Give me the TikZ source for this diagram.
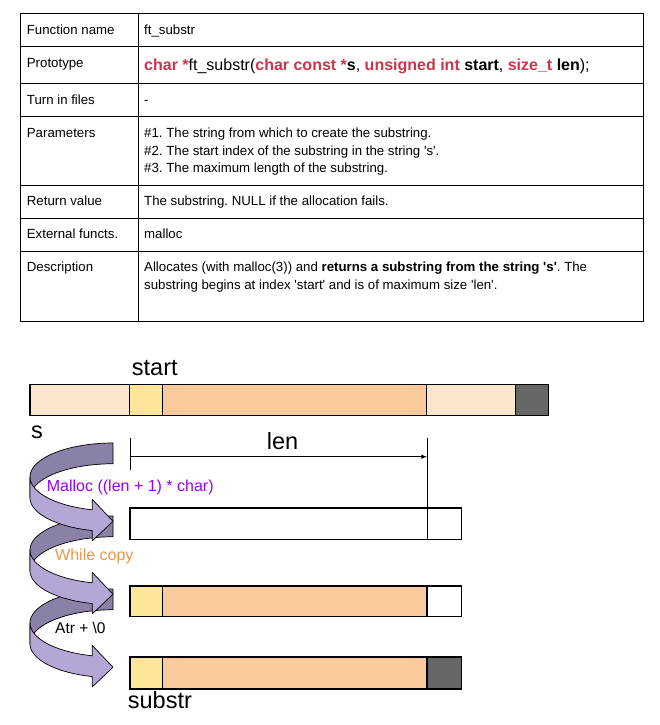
\documentclass[tikz,border=0pt]{standalone}
\usepackage{fontspec}
\newfontfamily\af{Liberation Sans}
\usetikzlibrary{arrows.meta}
\definecolor{codered}{RGB}{204,54,72}
\definecolor{peach}{HTML}{FCE5CD}
\definecolor{ylw}{HTML}{FFE599}
\definecolor{orng}{HTML}{F9CB9C}
\definecolor{dgray}{HTML}{666666}
\definecolor{arrlight}{HTML}{B4A7D6}
\definecolor{arrdark}{RGB}{139,128,166}
\definecolor{mallocc}{RGB}{153,0,255}
\definecolor{copyc}{RGB}{238,150,70}
\newcommand\curvedarrow[1]{%
\begin{scope}[shift={(113,#1)}]
\filldraw[darkp] (0,20.75) -- plot[domain=270:180,samples=30,variable=\q] ({83*cos(\q)},{54.69+33.94*sin(\q)}) -- (-83,33.94) -- plot[domain=180:270,samples=30,variable=\q] ({83*cos(\q)},{33.94+33.94*sin(\q)}) -- cycle;
\filldraw[lightp] (-83,33.94) -- plot[domain=180:104.48,samples=30,variable=\q] ({83*cos(\q)},{33.94+33.94*sin(\q)}) -- (-20.75,56.4) -- (0,78.25) -- (-20.75,97.9) -- (-20.75,87.55) -- plot[domain=104.48:180,samples=30,variable=\q] ({83*cos(\q)},{54.69+33.94*sin(\q)}) -- cycle;
\end{scope}}
\begin{document}
\begin{tikzpicture}[x=1pt,y=-1pt,
  tbl/.style={draw=black,line width=1pt},
  tl/.style={font=\af\frenchspacing\fontsize{13.25}{15}\selectfont,anchor=base west,inner sep=0pt},
  codetxt/.style={font=\af\frenchspacing\fontsize{16}{19}\selectfont,anchor=base west,inner sep=0pt},
  big/.style={font=\af\fontsize{23.5}{28}\selectfont,anchor=base west,inner sep=0pt},
  albl/.style={font=\af\frenchspacing\fontsize{16}{19}\selectfont,anchor=base west,inner sep=0pt},
  cell/.style={draw=black,line width=1.3pt},
  darkp/.style={fill=arrdark,draw=black,line width=0.7pt,line join=round},
  lightp/.style={fill=arrlight,draw=black,line width=0.7pt,line join=round}]
\useasboundingbox (0,0) rectangle (660,725);
% ---------- table ----------
\draw[tbl] (20,13.3) rectangle (643,321);
\draw[tbl] (138,13.3) -- (138,321);
\foreach \yy in {46.7,83.3,116,185,218,251}{\draw[tbl] (20,\yy) -- (643,\yy);}
\node[tl] (fn) at (26.7,35) {Function name};
\node[tl] (fnv) at (144,35) {ft\_substr};
\node[tl] (pt) at (26.7,67.3) {Prototype};
\node[codetxt] (ptv) at (144,70.7) {\textcolor{codered}{\textbf{char *}}ft\_substr(\textcolor{codered}{\textbf{char const *}}\textbf{s}, \textcolor{codered}{\textbf{unsigned int}} \textbf{start}, \textcolor{codered}{\textbf{size\_t}} \textbf{len});};
\node[tl] (tf) at (26.7,104.3) {Turn in files};
\node[tl] (tfv) at (144,104.3) {-};
\node[tl] (pa) at (26.7,137.3) {Parameters};
\node[tl] (pa1) at (144,137.3) {\#1. The string from which to create the substring.};
\node[tl] (pa2) at (144,155) {\#2. The start index of the substring in the string 's'.};
\node[tl] (pa3) at (144,172.7) {\#3. The maximum length of the substring.};
\node[tl] (rv) at (26.7,205.7) {Return value};
\node[tl] (rvv) at (144,205.7) {The substring. NULL if the allocation fails.};
\node[tl] (ef) at (26.7,238.7) {External functs.};
\node[tl] (efv) at (144,238.7) {malloc};
\node[tl] (de) at (26.7,271.7) {Description};
\node[tl] (de1) at (144,271.7) {Allocates (with malloc(3)) and \textbf{returns a substring from the string 's'}. The};
\node[tl] (de2) at (144,289.3) {substring begins at index 'start' and is of maximum size 'len'.};
% ---------- top bar ----------
\draw[cell,fill=peach] (30,384.3) rectangle (129.5,415.3);
\draw[cell,fill=ylw] (129.5,384.3) rectangle (162.3,415.3);
\draw[cell,fill=orng] (162.3,384.3) rectangle (426.5,415.3);
\draw[cell,fill=peach] (426.5,384.3) rectangle (515.7,415.3);
\draw[cell,fill=dgray] (515.7,384.3) rectangle (548.3,415.3);
\node[big] (start) at (131.7,375) {start};
\node[big] (s) at (31,438.3) {s};
\node[big] (len) at (266.7,449.3) {len};
% ---------- len dimension ----------
\coordinate (lenTL) at (130,437.7);
\coordinate (lenBL) at (130,470);
\coordinate (lenTR) at (427.3,437.7);
\coordinate (lenBR) at (427.3,508);
\coordinate (lenL) at (130,456.7);
\coordinate (lenR) at (427.3,456.7);
\draw[line width=1pt] (lenTL) -- (lenBL);
\draw[line width=1pt] (lenTR) -- (lenBR);
\draw[line width=1pt,-{Latex[length=6pt,width=4.5pt]}] (lenL) -- (lenR);
% ---------- curved arrows ----------
\curvedarrow{589}
\curvedarrow{516}
\curvedarrow{443}
% ---------- bar 2 ----------
\draw[cell,fill=white] (130,508) rectangle (427.3,539.5);
\draw[cell,fill=white] (427.3,508) rectangle (461.7,539.5);
% ---------- bar 3 ----------
\draw[cell,fill=ylw] (130,586) rectangle (162.3,616.5);
\draw[cell,fill=orng] (162.3,586) rectangle (427,616.5);
\draw[cell,fill=white] (427,586) rectangle (461.7,616.5);
\draw[line width=2.2pt] (427,586) -- (427,616.5);
% ---------- bar 4 ----------
\draw[cell,fill=ylw] (130,657) rectangle (162.3,689);
\draw[cell,fill=orng] (162.3,657) rectangle (427,689);
\draw[cell,fill=dgray] (427,657) rectangle (461.7,689);
\node[big] (substr) at (127.7,708.3) {substr};
% ---------- arrow labels ----------
\node[albl,text=mallocc] (malloc) at (46.7,491.7) {Malloc ((len + 1) * char)};
\node[albl,text=copyc] (wcopy) at (55,560.7) {While copy};
\node[albl,font=\af\fontsize{15.5}{18}\selectfont] (atr) at (55,633.3) {Atr + \textbackslash 0};
\end{tikzpicture}
\end{document}
